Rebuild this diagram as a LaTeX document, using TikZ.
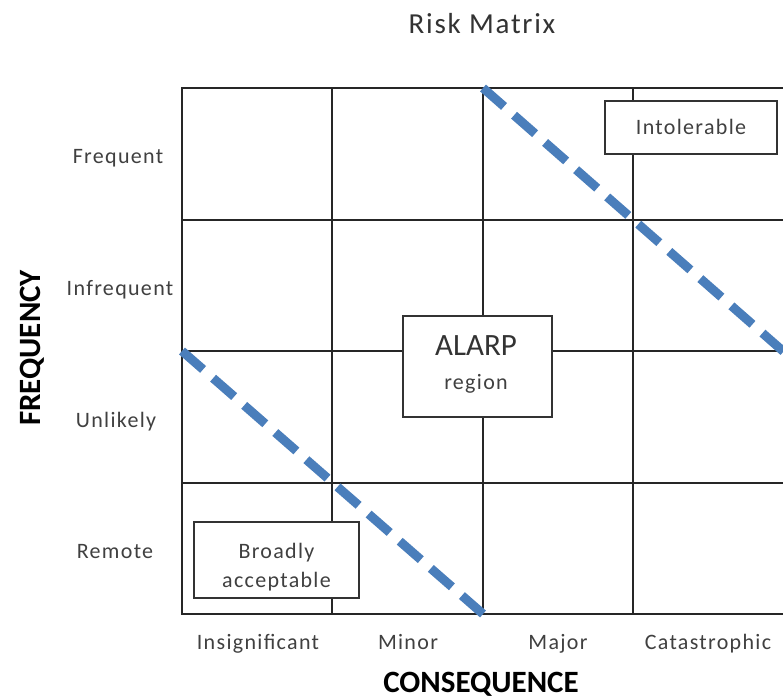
\documentclass[tikz,border=0pt]{standalone}
\usepackage{fontspec}
\setmainfont{Carlito}
\newfontfamily\spfont[LetterSpace=6]{Carlito}
\begin{document}
\begin{tikzpicture}[x=1pt,y=-1pt,
  gridline/.style={line width=2pt,draw=black!85},
  riskline/.style={line width=9pt,draw=blueline,dash pattern=on 28pt off 13.3pt},
  lab/.style={font=\spfont\fontsize{22}{26}\selectfont,text=black!75,anchor=base,inner sep=0pt},
  axislab/.style={font=\fontsize{31}{35}\selectfont\bfseries,text=black,anchor=base,inner sep=0pt},
  zonebox/.style={draw=black!80,line width=1.8pt,fill=white,inner sep=0pt}
]
\definecolor{blueline}{HTML}{4A7EBB}
\useasboundingbox (0,0) rectangle (783,700);
\fill[white] (0,0) rectangle (783,700);
% title
\node[font=\spfont\fontsize{29}{34}\selectfont,text=black!80,anchor=base,inner sep=0pt] (title) at (482,34) {Risk Matrix};
% grid
\foreach \yy in {88,220,351,483,614} \draw[gridline] (181,\yy) -- (784,\yy);
\foreach \xx in {182,332,483,633} \draw[gridline] (\xx,88) -- (\xx,614);
% zone boxes
\node[zonebox,minimum width=172pt,minimum height=53pt] (intol) at (691,127.5) {};
\node[lab] (intoltxt) at (691,135) {Intolerable};
\node[zonebox,minimum width=149pt,minimum height=101pt] (alarp) at (477.5,366.5) {};
\node[anchor=base,inner sep=0pt,font=\fontsize{31}{34}\selectfont,text=black!80] (alarptxt) at (476,355) {ALARP};
\node[lab] (regtxt) at (476,389) {region};
\node[zonebox,minimum width=165pt,minimum height=76pt] (broad) at (276.5,560) {};
\node[lab] (broadtxt) at (276.5,558) {Broadly};
\node[lab] (accepttxt) at (276.5,587) {acceptable};
% dashed boundary lines
\coordinate (u1) at (483,88);
\coordinate (u2) at (784,352);
\coordinate (l1) at (182,351);
\coordinate (l2) at (483,614);
\draw[riskline] (u1) -- (u2);
\draw[riskline] (l1) -- (l2);
% row labels
\node[lab] (freq) at (118,164) {Frequent};
\node[lab] (infreq) at (120,295) {Infrequent};
\node[lab] (unlik) at (116,427) {Unlikely};
\node[lab] (remote) at (115,558) {Remote};
% column labels
\node[lab] (insig) at (258,649) {Insignificant};
\node[lab] (minor) at (408,649) {Minor};
\node[lab] (major) at (558,649) {Major};
\node[lab] (cat) at (708,649) {Catastrophic};
% axis labels
\node[axislab] (cons) at (481,692) {CONSEQUENCE};
\node[axislab,rotate=90] (freqax) at (40,348) {FREQUENCY};
\end{tikzpicture}
\end{document}
